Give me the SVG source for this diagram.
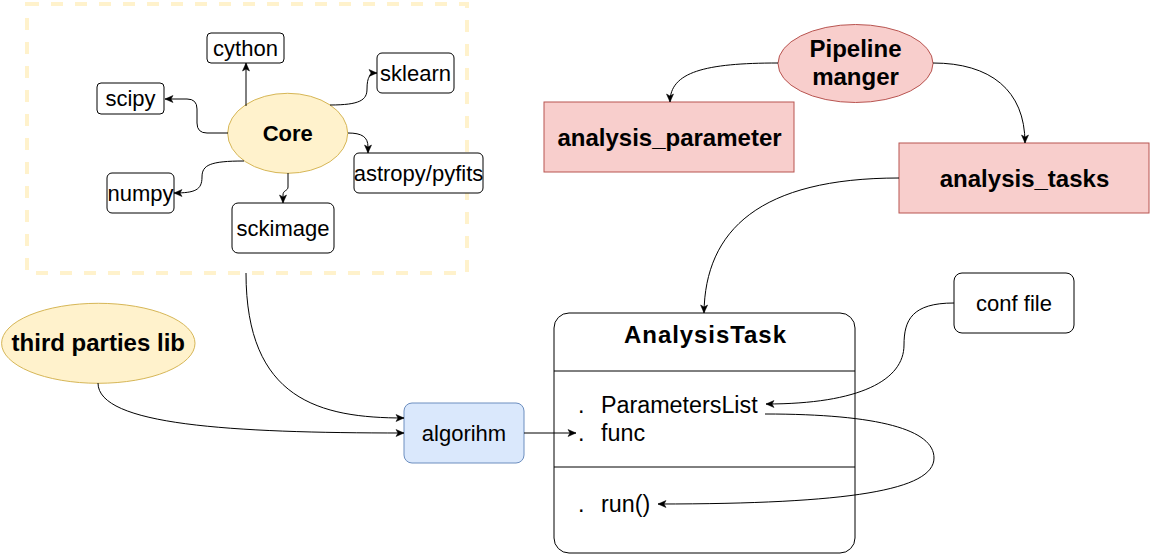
<svg xmlns="http://www.w3.org/2000/svg" width="1151" height="555" viewBox="0 0 1151 555">
<defs>
<style>
text{font-family:"Liberation Sans",Arial,Helvetica,sans-serif;fill:#000;}
.r{font-size:22px;text-anchor:middle;}
.b{font-size:24px;font-weight:bold;text-anchor:middle;}
.m{font-size:23.3px;}
.box{fill:#fff;stroke:#000;stroke-width:1;}
.yel{fill:#fff2cc;stroke:#d6b656;stroke-width:1;}
.red{fill:#f8cecc;stroke:#b85450;stroke-width:1;}
.blue{fill:#dae8fc;stroke:#6c8ebf;stroke-width:1;}
.e{fill:none;stroke:#000;stroke-width:1;marker-end:url(#arr);}
.ln{fill:none;stroke:#000;stroke-width:1;}
</style>
<marker id="arr" markerUnits="userSpaceOnUse" markerWidth="10" markerHeight="10" viewBox="0 0 10 10" refX="9" refY="5" orient="auto">
<path d="M1,1.5 L9,5 L1,8.5 L3,5 z" fill="#000" stroke="#000" stroke-width="0.5"/>
</marker>
</defs>

<g id="core-container">
<rect x="27" y="4" width="440" height="269" fill="none" stroke="#fff2cc" stroke-width="4" stroke-dasharray="12 12"/>
</g>

<g id="core">
<ellipse class="yel" cx="287.7" cy="133.3" rx="60" ry="40"/>
<text x="287.7" y="141" style="font-size:22px;font-weight:bold;text-anchor:middle">Core</text>
</g>
<g id="cython">
<rect class="box" x="207" y="33" width="77" height="30" rx="4"/>
<text class="r" x="245.5" y="55.7">cython</text>
</g>
<g id="sklearn">
<rect class="box" x="377" y="53" width="77" height="40" rx="5"/>
<text class="r" x="415.5" y="80.7">sklearn</text>
</g>
<g id="scipy">
<rect class="box" x="97" y="83" width="67" height="31" rx="4"/>
<text class="r" x="130.5" y="106.2">scipy</text>
</g>
<g id="astropy">
<rect class="box" x="354" y="153" width="129" height="40" rx="5"/>
<text class="r" x="418.5" y="180.7">astropy/pyfits</text>
</g>
<g id="numpy">
<rect class="box" x="107" y="173" width="67" height="40" rx="5"/>
<text class="r" x="140.5" y="200.7">numpy</text>
</g>
<g id="sckimage">
<rect class="box" x="232" y="203" width="102" height="50" rx="6"/>
<text class="r" x="283" y="235.7">sckimage</text>
</g>

<g id="pipeline">
<ellipse class="red" cx="855.5" cy="63.5" rx="77.5" ry="39"/>
<text class="b" x="855.5" y="57">Pipeline</text>
<text class="b" x="855.5" y="85">manger</text>
</g>
<g id="analysis_parameter">
<rect class="red" x="544" y="102" width="250" height="70"/>
<text class="b" x="669.5" y="145.5">analysis_parameter</text>
</g>
<g id="analysis_tasks">
<rect class="red" x="899" y="143" width="250" height="70"/>
<text class="b" x="1024.5" y="186.5">analysis_tasks</text>
</g>

<g id="third_parties">
<ellipse class="yel" cx="98.3" cy="343.3" rx="96.7" ry="40"/>
<text class="b" x="98.3" y="351">third parties lib</text>
</g>

<g id="algorihm">
<rect class="blue" x="404" y="403" width="120" height="60" rx="8"/>
<text class="r" x="464" y="440.7">algorihm</text>
</g>

<g id="conf_file">
<rect class="box" x="954" y="273" width="120" height="60" rx="8"/>
<text class="r" x="1014" y="310.7">conf file</text>
</g>

<g id="analysis_task">
<rect class="box" x="554" y="313" width="301" height="240" rx="15"/>
<line class="ln" x1="554" y1="371" x2="855" y2="371"/>
<line class="ln" x1="554" y1="467" x2="855" y2="467"/>
<text class="b" x="705" y="343" textLength="162" lengthAdjust="spacing">AnalysisTask</text>
<text class="m"><tspan x="578" y="413">.</tspan><tspan x="601" y="413">ParametersList</tspan></text>
<text class="m"><tspan x="578" y="441">.</tspan><tspan x="601" y="441">func</tspan></text>
<text class="m"><tspan x="578" y="512">.</tspan><tspan x="601" y="512">run()</tspan></text>
</g>

<g id="connectors">
<path class="e" d="M246,106 L246,63"/>
<path class="e" d="M228,133 L207,133 Q197,133 197,123 L197,109 Q197,99 187,99 L165,99"/>
<path class="e" d="M330,105 C360,105 367,100 367,89 C367,77 370,73 377,73"/>
<path class="e" d="M348,133 C362,133 368,137 368,147 L368,153"/>
<path class="e" d="M244,161 C210,161 202,165 202,177 C202,190 195,193 174,193"/>
<path class="e" d="M288,173 L288,187 C288,191 283,190 283,195 L283,203"/>
<path class="e" d="M778,63 C705,63 670,72 670,102"/>
<path class="e" d="M933,63 C990,63 1025,90 1025,143"/>
<path class="e" d="M899,178 C760,178 705,230 704,313"/>
<path class="e" d="M246,273 C246,400 320,418 404,418"/>
<path class="e" d="M98,383 C98,425 230,433 404,433"/>
<path class="e" d="M524,433 L576,433"/>
<path class="e" d="M954,303 C912,303 904,320 904,345 C904,380 860,404 766,404"/>
<path class="e" d="M765,414 C880,414 934,430 934,458 C934,490 850,504 658,504"/>
</g>
</svg>
